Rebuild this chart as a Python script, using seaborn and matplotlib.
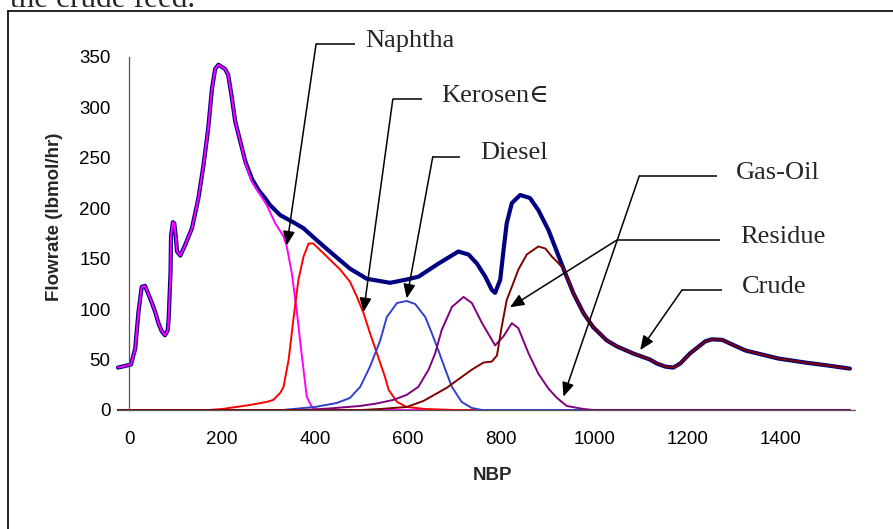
import matplotlib
matplotlib.use("Agg")
import matplotlib.pyplot as plt
from matplotlib.lines import Line2D
import seaborn as sns

# ---- data (NBP vs flowrate, lbmol/hr) ----
crude_nbp = [-24, 4, 13, 20, 27, 34, 42, 49, 56, 63, 70, 77, 83, 85, 89, 90, 94, 97,
             100, 103, 110, 120, 135, 149, 160, 170, 178, 185, 192, 206, 213, 221,
             228, 239, 250, 264, 278, 292, 303, 325, 353, 375, 404, 439, 475, 511,
             561, 594, 622, 665, 708, 730, 748, 766, 780, 787, 798, 805, 812, 823,
             841, 862, 880, 902, 934, 955, 977, 998, 1027, 1049, 1084, 1120, 1135,
             1153, 1170, 1185, 1206, 1217, 1239, 1253, 1275, 1325, 1396, 1454, 1504,
             1550]
crude_flow = [42, 45, 61, 97, 122, 123, 114, 106, 97, 86, 78, 74, 79, 91, 137, 172, 186, 185,
              173, 157, 153, 163, 180, 210, 243, 279, 318, 338, 342, 338, 332, 309,
              286, 266, 246, 229, 218, 210, 203, 193, 186, 180, 168, 154, 140, 130,
              126, 129, 132, 145, 157, 154, 145, 132, 119, 116, 129, 158, 185, 205,
              213, 210, 198, 178, 140, 116, 96, 82, 69, 63, 56, 50, 46,
              43, 42, 46, 56, 60, 68, 70, 69.5, 59, 51, 47, 44,
              41]

naphtha_nbp = [-24, 4, 13, 20, 27, 34, 42, 49, 56, 63, 70, 77, 83, 85, 89, 90, 94, 97,
               100, 103, 110, 120, 135, 149, 160, 170, 178, 185, 192, 206, 213, 221,
               228, 239, 250, 264, 282, 296, 314, 332, 339, 350, 361, 369, 376, 382,
               393, 400, 420, 1550]
naphtha_flow = [42, 45, 61, 97, 122, 123, 114, 106, 97, 86, 78, 74, 79, 91, 137, 172, 186, 185,
                173, 157, 153, 163, 180, 210, 243, 279, 318, 338, 342, 338, 332, 309,
                286, 266, 245, 226, 213, 203, 185, 172, 162, 135, 96, 63, 36, 13,
                3, 0.5, 0, 0]

kerosene_nbp = [-24, 170, 200, 260, 296, 310, 325, 332, 343, 353, 364, 375, 386, 396,
                425, 454, 475, 490, 504, 518, 533, 550, 558, 576, 597, 636, 700, 1550]
kerosene_flow = [0, 0, 1, 5, 8, 10, 17, 23, 50, 89, 129, 152, 165, 165,
                 152, 139, 127, 112, 96, 76, 56, 33, 20, 8, 3, 1, 0, 0]

diesel_nbp = [-24, 330, 400, 447, 475, 497, 518, 540, 554, 576, 597, 615, 637, 651,
              665, 680, 694, 715, 737, 759, 1550]
diesel_flow = [0, 0, 3, 7, 12, 23, 43, 69, 92, 106, 108, 105, 92, 76,
               59, 40, 23, 8, 2, 0, 0]

gasoil_nbp = [-24, 380, 430, 497, 533, 568, 597, 622, 644, 658, 672, 694, 719, 737,
              759, 787, 805, 823, 837, 859, 880, 902, 920, 941, 977, 1000, 1550]
gasoil_flow = [0, 0, 1.5, 4, 6.5, 10, 15, 23, 40, 56, 79, 102, 112, 106,
               86, 64, 73, 86, 81, 56, 36, 21, 12, 4, 1, 0, 0]

residue_nbp = [-24, 500, 540, 597, 633, 683, 737, 762, 780, 791, 801, 812, 823, 837,
               855, 880, 895, 909, 922, 934, 955, 977, 998, 1027, 1049, 1084, 1120,
               1135, 1153, 1170, 1185, 1206, 1217, 1239, 1253, 1275, 1325, 1396, 1454,
               1504, 1550]
residue_flow = [0, 0, 1, 3, 9, 22, 40, 47, 48, 54, 82, 109, 122, 139,
                154, 162, 160, 152, 146, 140, 116, 96, 82, 69, 63, 56, 50,
                46, 43, 42, 46, 56, 60, 68, 70, 69.5, 59, 51, 47,
                44, 41]

x_ticks = [0, 200, 400, 600, 800, 1000, 1200, 1400]
y_ticks = [0, 50, 100, 150, 200, 250, 300, 350]

# callout labels: text anchor, elbow start, elbow knee, arrow tip (data coords)
callout_labels = ["Naphtha", "Kerosen\u2208", "Diesel", "Gas-Oil", "Residue", "Crude"]
callout_text = [(507, 360), (672, 305.4), (755, 249), (1305, 228.5), (1314, 165.7), (1318, 116.2)]
callout_start = [(486, 362.6), (629, 307.8), (712, 251), (1264, 231.8), (1271, 168.4), (1275, 118.9)]
callout_knee = [(402, 362.6), (567, 307.8), (653, 251), (1097, 231.8), (1049, 168.4), (1189, 118.9)]
callout_tip = [(339, 163), (504, 97), (597, 110.6), (934, 13.2), (819, 101.7), (1099, 59.4)]

sns.set_style("white")
plt.rcParams["font.family"] = ["Liberation Sans", "DejaVu Sans"]

W, H = 893, 529
fig = plt.figure(figsize=(W / 100, H / 100), dpi=100)
ax = fig.add_axes([118 / W, 119 / H, 737 / W, 353.3 / H])

series = [
    (crude_nbp, crude_flow, "#000080", 3.0),
    (naphtha_nbp, naphtha_flow, "#FF00FF", 1.4),
    (kerosene_nbp, kerosene_flow, "#FF0000", 1.4),
    (diesel_nbp, diesel_flow, "#3340CC", 1.4),
    (gasoil_nbp, gasoil_flow, "#800080", 1.4),
    (residue_nbp, residue_flow, "#800000", 1.4),
]
for xs, ys, col, lw in series:
    sns.lineplot(x=xs, y=ys, ax=ax, color=col, linewidth=lw,
                 estimator=None, sort=False)
for ln in ax.lines:
    ln.set_clip_on(False)
    ln.set_solid_joinstyle("round")
    ln.set_solid_capstyle("round")

ax.set_xlim(-24, 1561)
ax.set_ylim(0, 350)
ax.set_xticks(x_ticks)
ax.set_yticks(y_ticks)

for side in ["top", "right"]:
    ax.spines[side].set_visible(False)
ax.spines["left"].set_position(("data", 0))
for side in ["left", "bottom"]:
    ax.spines[side].set_color("#555555")
    ax.spines[side].set_linewidth(0.9)
ax.tick_params(axis="both", direction="inout", length=8.6, width=0.9,
               color="#666666", labelsize=13.5, labelcolor="black")
ax.tick_params(axis="x", pad=11)
ax.tick_params(axis="y", pad=9)
ax.set_xlabel("")
ax.set_ylabel("")

fig.text(55 / W, 1 - 217 / H, "Flowrate (lbmol/hr)", rotation=90, fontsize=13.5,
         fontweight="bold", ha="center", va="center")
fig.text(493 / W, 1 - 476 / H, "NBP", fontsize=13.5, fontweight="bold",
         ha="center", va="center")

# callouts with elbow + arrow
serif = ["Liberation Serif", "DejaVu Serif"]
for lab, txy, sxy, kxy, tip in zip(callout_labels, callout_text, callout_start,
                                   callout_knee, callout_tip):
    ax.text(txy[0], txy[1], lab, fontsize=19, family=serif, ha="left",
            va="baseline", clip_on=False)
    ax.plot([sxy[0], kxy[0]], [sxy[1], kxy[1]], color="black", lw=1.1,
            clip_on=False, solid_capstyle="butt")
    ax.annotate("", xy=tip, xytext=kxy, annotation_clip=False,
                arrowprops=dict(arrowstyle="-|>,head_length=0.85,head_width=0.36",
                                color="black", lw=1.1, shrinkA=0, shrinkB=0,
                                mutation_scale=10))

# page frame and cut-off body text from the source document
fig.add_artist(Line2D([8 / W, 8 / W], [0, 1 - 10.7 / H], transform=fig.transFigure,
                      color="black", lw=1.2))
fig.add_artist(Line2D([8 / W, 1], [1 - 10.7 / H, 1 - 10.7 / H], transform=fig.transFigure,
                      color="black", lw=1.2))
fig.text(10 / W, 1 - 6.7 / H, "the crude feed.", family=serif, fontsize=22.5,
         va="baseline", ha="left")

fig.savefig("out.png", dpi=100)
